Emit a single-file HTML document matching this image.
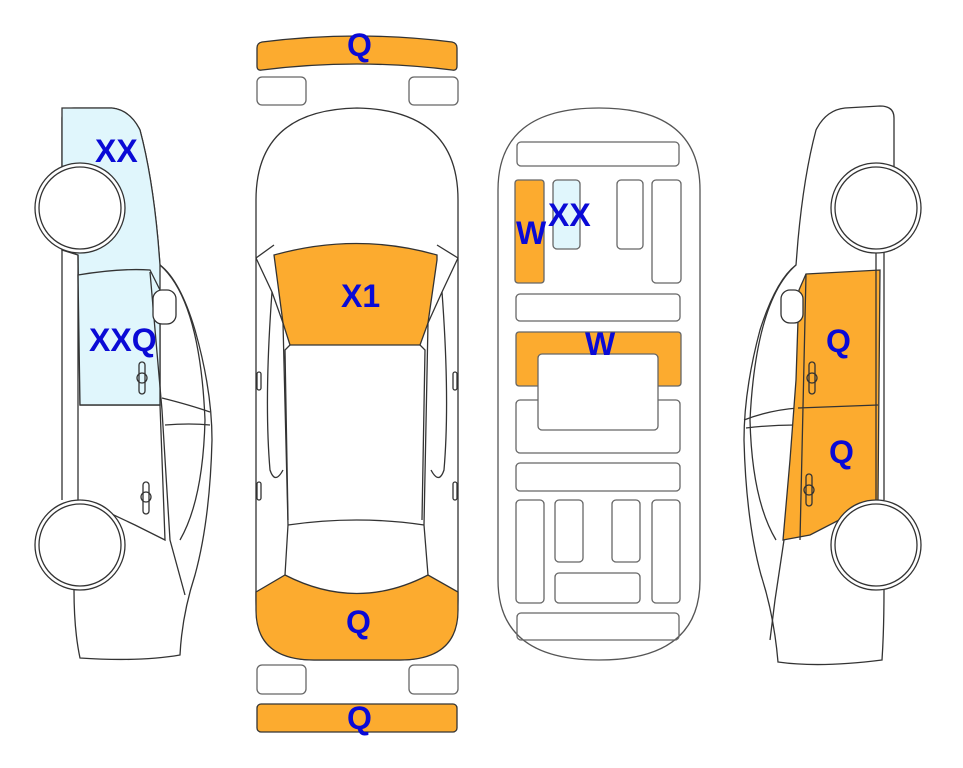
<!DOCTYPE html>
<html><head><meta charset="utf-8"><style>
html,body{margin:0;padding:0;background:#fff;}
svg{display:block;}
text{font-family:"Liberation Sans",Arial,sans-serif;font-weight:bold;fill:#0a0ad6;font-size:32px;}
</style></head><body>
<svg width="963" height="768" viewBox="0 0 963 768" xmlns="http://www.w3.org/2000/svg">
<g fill="none" stroke="#333" stroke-width="1.3">
<!-- LEFT CAR -->
<path d="M62,250 L62,118 Q62,108 74,108 L112,108 Q130,110 140,130 Q152,175 158,240 L160,265 Q180,280 195,330 Q212,390 212,440 Q210,520 195,575 Q182,615 180,655 Q140,662 80,658 Q74,630 74,590 L68,560" fill="#fff"/>
<path d="M62,115 L62,108 Q62,108 74,108 L112,108 Q130,110 140,130 Q152,175 158,240 L160,265 L160,405 L80,405 L78,255 L62,250 Z" fill="#e0f6fc"/>
<path d="M80,405 L78,275 Q120,268 150,270 L160,290 L160,405 Z" fill="#e0f6fc"/>
<path d="M62,250 L62,500"/>
<path d="M78,255 L78,500"/>
<path d="M80,405 L160,405 L165,540 L135,525 L82,500"/>
<path d="M150,272 L162,410 L170,540 L185,595"/>
<path d="M160,265 Q200,300 205,420 Q203,500 180,540"/>
<path d="M162,398 Q190,405 210,412 M165,425 Q190,423 210,425"/>
<rect x="153" y="290" width="23" height="34" rx="9" fill="#fff"/>
<rect x="139" y="362" width="6" height="32" rx="3"/><circle cx="142" cy="378" r="5"/>
<rect x="143" y="482" width="6" height="32" rx="3"/><circle cx="146" cy="497" r="5"/>
<circle cx="80" cy="208" r="45" fill="#fff"/><circle cx="80" cy="208" r="41" fill="#fff"/>
<circle cx="80" cy="545" r="45" fill="#fff"/><circle cx="80" cy="545" r="41" fill="#fff"/>

<!-- TOP VIEW CAR -->
<path d="M262,42 Q357,30 452,42 Q457,43 457,48 L457,66 Q457,71 452,70 Q357,58 262,70 Q257,71 257,66 L257,48 Q257,43 262,42 Z" fill="#fcab2f"/>
<rect x="257" y="77" width="49" height="28" rx="5" stroke="#666"/>
<rect x="409" y="77" width="49" height="28" rx="5" stroke="#666"/>
<rect x="257" y="665" width="49" height="29" rx="5" stroke="#666"/>
<rect x="409" y="665" width="49" height="29" rx="5" stroke="#666"/>
<rect x="257" y="704" width="200" height="28" rx="4" fill="#fcab2f"/>
<path d="M256,200 Q256,110 357,108 Q458,110 458,200 L458,600 Q458,660 400,660 L314,660 Q256,660 256,600 Z" fill="#fff"/>
<path d="M274,255 Q357,232 437,255 L437,260 L428,323 L420,345 L290,345 L283,323 Z" fill="#fcab2f"/>
<path d="M256,258 L274,245 M458,258 L437,245"/>
<path d="M256,258 L272,292 L283,323 L288,525 L285,575 M458,258 L442,292 L428,323 L424,525 L428,575"/>
<path d="M290,345 L285,350 L288,520 M420,345 L425,350 L422,520"/>
<path d="M272,292 Q264,400 270,470 Q275,485 283,470 M442,292 Q450,400 444,470 Q439,485 431,470"/>
<path d="M288,525 Q357,515 424,525"/>
<path d="M256,592 L285,575 Q357,612 428,575 L458,592 L458,610 Q458,660 400,660 L314,660 Q256,660 256,610 Z" fill="#fcab2f"/>
<rect x="257" y="372" width="4" height="18" rx="2"/><rect x="453" y="372" width="4" height="18" rx="2"/>
<rect x="257" y="482" width="4" height="18" rx="2"/><rect x="453" y="482" width="4" height="18" rx="2"/>

<!-- UNDERBODY -->
<g stroke="#666">
<path d="M498,190 Q498,108 599,108 Q700,108 700,190 L700,580 Q700,660 599,660 Q498,660 498,580 Z" fill="#fff" stroke="#555"/>
<rect x="517" y="142" width="162" height="24" rx="4"/>
<rect x="515" y="180" width="29" height="103" rx="3" fill="#fcab2f"/>
<rect x="553" y="180" width="27" height="69" rx="4" fill="#e0f6fc"/>
<rect x="617" y="180" width="26" height="69" rx="4"/>
<rect x="652" y="180" width="29" height="103" rx="4"/>
<rect x="516" y="294" width="164" height="27" rx="4"/>
<rect x="516" y="400" width="164" height="53" rx="4"/>
<rect x="516" y="332" width="165" height="54" rx="3" fill="#fcab2f"/>
<rect x="538" y="354" width="120" height="76" rx="4" fill="#fff"/>
<rect x="516" y="463" width="164" height="28" rx="4"/>
<rect x="516" y="500" width="28" height="103" rx="4"/>
<rect x="555" y="500" width="28" height="62" rx="4"/>
<rect x="612" y="500" width="28" height="62" rx="4"/>
<rect x="652" y="500" width="28" height="103" rx="4"/>
<rect x="555" y="573" width="85" height="30" rx="4"/>
<rect x="517" y="613" width="162" height="27" rx="4"/>
</g>

<!-- RIGHT CAR -->
<path d="M894,250 L894,118 Q894,106 880,106 L845,108 Q826,110 816,130 Q804,175 798,240 L796,265 Q776,280 760,330 Q744,390 744,440 Q746,520 761,575 Q774,615 778,662 Q820,668 882,660 Q884,630 884,590 L890,560" fill="#fff"/>
<path d="M796,265 Q756,300 750,420 Q752,500 776,540"/>
<path d="M744,420 Q770,410 798,408 M746,428 Q770,425 795,425"/>
<path d="M806,274 L880,270 L878,500 L810,535 L783,540 L790,460 L796,380 L799,290 Z" fill="#fcab2f"/>
<path d="M806,274 L800,540 M798,408 L878,405"/>
<path d="M784,540 L775,600 L770,640"/>
<path d="M876,250 L876,500 M884,250 L884,500"/>
<rect x="781" y="290" width="22" height="33" rx="9" fill="#fff"/>
<rect x="809" y="362" width="6" height="32" rx="3"/><circle cx="812" cy="378" r="5"/>
<rect x="806" y="474" width="6" height="32" rx="3"/><circle cx="809" cy="490" r="5"/>
<circle cx="876" cy="208" r="45" fill="#fff"/><circle cx="876" cy="208" r="41" fill="#fff"/>
<circle cx="876" cy="545" r="45" fill="#fff"/><circle cx="876" cy="545" r="41" fill="#fff"/>
</g>

<text x="95" y="162">XX</text>
<text x="89" y="351">XXQ</text>
<text x="347" y="56">Q</text>
<text x="341" y="307">X1</text>
<text x="346" y="633">Q</text>
<text x="347" y="729">Q</text>
<text x="516" y="244">W</text>
<text x="548" y="226">XX</text>
<text x="585" y="355">W</text>
<text x="826" y="352">Q</text>
<text x="829" y="463">Q</text>
</svg>
</body></html>
